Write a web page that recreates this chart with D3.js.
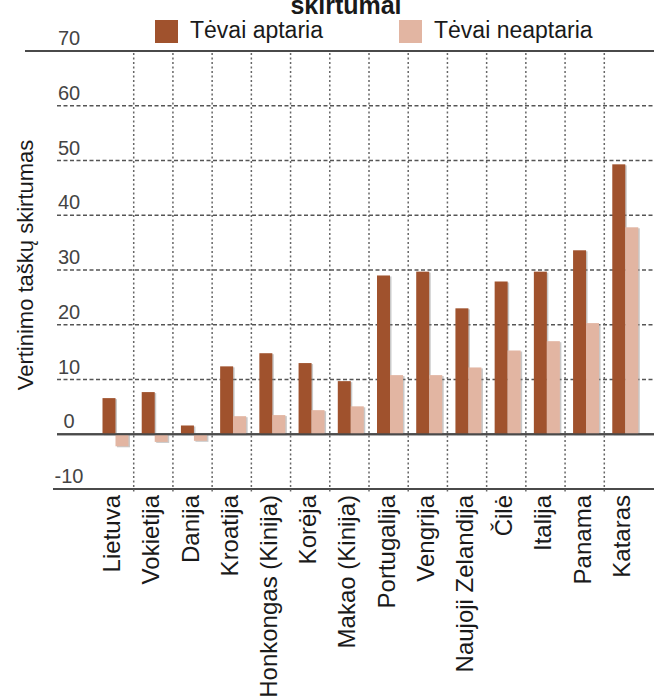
<!DOCTYPE html>
<html>
<head>
<meta charset="utf-8">
<script src="https://cdn.jsdelivr.net/npm/d3@7"></script>
<style>
  html, body { margin: 0; padding: 0; background: #fff; }
  svg { display: block; }
  text { font-family: "Liberation Sans", Arial, Helvetica, sans-serif; }
</style>
</head>
<body>
<svg id="chart" width="654" height="697"></svg>
<script>
const categories = ["Lietuva", "Vokietija", "Danija", "Kroatija", "Honkongas (Kinija)", "Korėja",
  "Makao (Kinija)", "Portugalija", "Vengrija", "Naujoji Zelandija", "Čilė", "Italija", "Panama", "Kataras"];
const seriesNames = ["Tėvai aptaria", "Tėvai neaptaria"];
const aptaria   = [6.6, 7.7, 1.6, 12.4, 14.8, 13.0, 9.7, 29.0, 29.7, 23.0, 27.9, 29.7, 33.6, 49.3];
const neaptaria = [-2.2, -1.4, -1.2, 3.3, 3.5, 4.4, 5.1, 10.8, 10.8, 12.2, 15.3, 17.0, 20.3, 37.8];
const yTicks = [-10, 0, 10, 20, 30, 40, 50, 60, 70];
const colors = ["#A0522D", "#E2B5A2"];
const title = "skirtumai";
const yTitle = "Vertinimo taškų skirtumas";

const svg = d3.select("#chart");
const W = 654;

const y = d3.scaleLinear().domain([-10, 70]).range([489, 51]);
const x0 = d3.scaleBand().domain(categories).range([95.5, 644.5]).padding(0);
const x1 = d3.scaleBand().domain(seriesNames).range([7, 33]).padding(0);

const rows = categories.map((c, i) => ({ cat: c, vals: [aptaria[i], neaptaria[i]] }));

// horizontal grid lines
const gH = svg.append("g");
yTicks.forEach(t => {
  const solid = (t === 70 || t === -10 || t === 0);
  const xStart = t === 70 ? 25 : (t === -10 ? 53 : 57);
  gH.append("line")
    .attr("x1", xStart).attr("x2", W)
    .attr("y1", y(t)).attr("y2", y(t))
    .attr("stroke", solid ? "#4a4a4a" : "#555")
    .attr("stroke-width", solid ? 2 : 1.6)
    .attr("stroke-dasharray", solid ? null : "4,2.5");
});

// vertical dotted grid lines at band boundaries
const gV = svg.append("g");
categories.slice(1).forEach(c => {
  const xv = x0(c) - 1;
  gV.append("line")
    .attr("x1", xv).attr("x2", xv)
    .attr("y1", y(70) + 2).attr("y2", y(-10) + 5)
    .attr("stroke", "#666")
    .attr("stroke-width", 1.5)
    .attr("stroke-dasharray", "2,2.5");
});

// bars with subtle shadow
const groups = svg.append("g").selectAll("g").data(rows).join("g")
  .attr("transform", d => `translate(${x0(d.cat)},0)`);

groups.selectAll("rect.shadow").data(d => d.vals.map((v, k) => ({ v, k })))
  .join("rect").attr("class", "shadow")
  .attr("x", d => x1(seriesNames[d.k]) + 1.5)
  .attr("y", d => Math.min(y(d.v), y(0)) + 1)
  .attr("width", x1.bandwidth())
  .attr("height", d => Math.abs(y(d.v) - y(0)))
  .attr("fill", "#888").attr("opacity", 0.45);

groups.selectAll("rect.bar").data(d => d.vals.map((v, k) => ({ v, k })))
  .join("rect").attr("class", "bar")
  .attr("x", d => x1(seriesNames[d.k]))
  .attr("y", d => Math.min(y(d.v), y(0)))
  .attr("width", x1.bandwidth())
  .attr("height", d => Math.abs(y(d.v) - y(0)))
  .attr("fill", d => colors[d.k]);

// redraw zero line on top
svg.append("line")
  .attr("x1", 57).attr("x2", W)
  .attr("y1", y(0)).attr("y2", y(0))
  .attr("stroke", "#4a4a4a").attr("stroke-width", 2);

// y tick labels
svg.append("g").selectAll("text").data(yTicks).join("text")
  .attr("x", 69)
  .attr("y", d => y(d) - 6)
  .attr("text-anchor", "middle")
  .attr("font-size", 20)
  .attr("fill", "#444")
  .text(d => d);

// x labels
svg.append("g").selectAll("text").data(categories).join("text")
  .attr("transform", d => `translate(${x0(d) + x0.bandwidth() / 2 + 5}, 495) rotate(-90)`)
  .attr("text-anchor", "end")
  .attr("font-size", 24)
  .attr("fill", "#1a1a1a")
  .text(d => d);

// y axis title
svg.append("text")
  .attr("transform", "translate(33, 265) rotate(-90)")
  .attr("text-anchor", "middle")
  .attr("font-size", 22)
  .attr("fill", "#1a1a1a")
  .text(yTitle);

// title (partially cut at top, as in the reference)
svg.append("text")
  .attr("x", 346).attr("y", 14)
  .attr("text-anchor", "middle")
  .attr("font-size", 25)
  .attr("font-weight", "bold")
  .attr("fill", "#1a1a1a")
  .text(title);

// legend
const legendX = [155, 399];
const lg = svg.append("g").selectAll("g").data(seriesNames).join("g")
  .attr("transform", (d, i) => `translate(${legendX[i]},20)`);
lg.append("rect").attr("width", 23).attr("height", 23).attr("fill", (d, i) => colors[i]);
lg.append("text").attr("x", 35).attr("y", 18)
  .attr("font-size", 23).attr("fill", "#1a1a1a").text(d => d);
</script>
</body>
</html>
